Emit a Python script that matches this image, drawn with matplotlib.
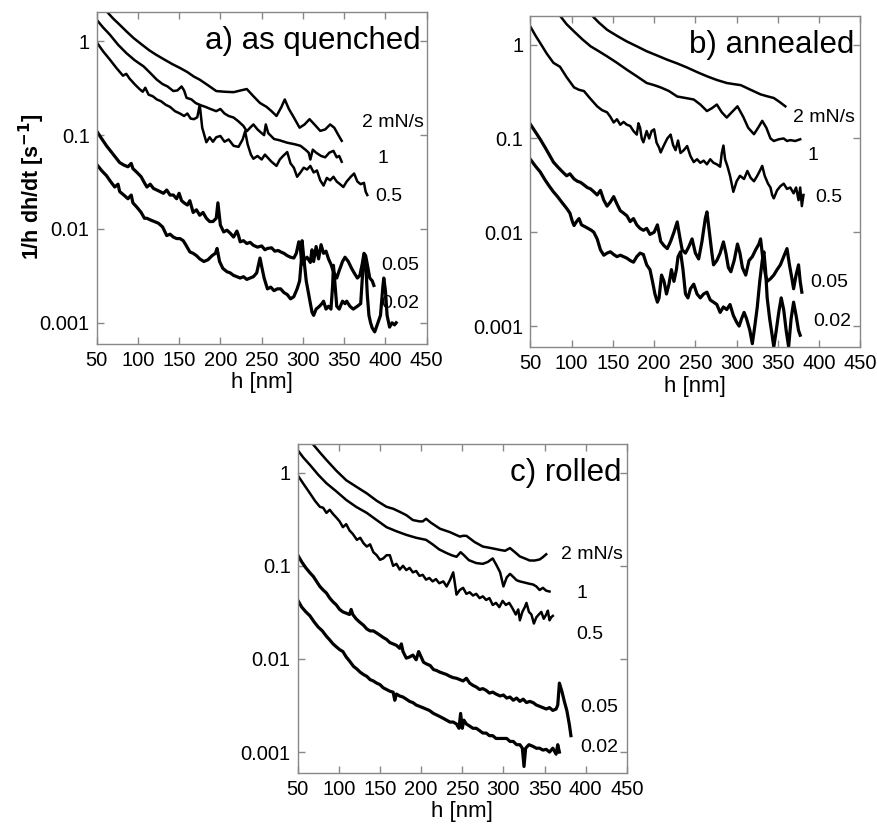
import matplotlib.pyplot as plt
from matplotlib.ticker import NullLocator

plt.rcParams['font.family'] = ['Liberation Sans', 'DejaVu Sans']

rates = ["2 mN/s", "1", "0.5", "0.05", "0.02"]
h_ticks = [50, 100, 150, 200, 250, 300, 350, 400, 450]
r_ticks = [1, 0.1, 0.01, 0.001]
r_tick_labels = ["1", "0.1", "0.01", "0.001"]

# ---- a) as quenched ----
qa_2_h = [64, 70, 78, 86, 95, 105, 114, 122, 132, 142, 151, 160, 168, 175, 185, 195, 205, 216, 225, 232,
          240, 248, 256, 262, 268, 274, 278, 283, 288, 296, 302, 308, 314, 321, 327, 333, 338, 343, 347]
qa_2_r = [2.0, 1.75, 1.5, 1.28, 1.08, 0.92, 0.8, 0.72, 0.64, 0.57, 0.52, 0.47, 0.42, 0.39, 0.34, 0.295, 0.29,
          0.287, 0.30, 0.31, 0.26, 0.22, 0.2, 0.18, 0.16, 0.2, 0.24, 0.19, 0.16, 0.12, 0.13, 0.148, 0.13, 0.111,
          0.115, 0.13, 0.12, 0.1, 0.087]

qa_1_h = [50, 58, 66, 76, 86, 96, 107, 115, 123, 130, 136, 143, 148, 153, 156, 159, 165, 170, 175, 182, 188,
          195, 200, 205, 210, 216, 222, 228, 232, 236, 240, 245, 250, 253, 255, 258, 265, 272, 281, 290, 297,
          303, 307, 309, 312, 316, 322, 327, 332, 337, 341, 344, 347]
qa_1_r = [1.70, 1.4, 1.18, 0.92, 0.75, 0.63, 0.54, 0.46, 0.39, 0.35, 0.33, 0.295, 0.3, 0.33, 0.3, 0.25, 0.24,
          0.22, 0.21, 0.2, 0.19, 0.18, 0.19, 0.17, 0.16, 0.154, 0.14, 0.125, 0.11, 0.12, 0.13, 0.115, 0.105,
          0.10, 0.13, 0.105, 0.091, 0.088, 0.083, 0.08, 0.077, 0.07, 0.065, 0.055, 0.07, 0.065, 0.06, 0.058,
          0.065, 0.068, 0.058, 0.06, 0.052]

qa_05_h = [50, 58, 66, 74, 82, 86, 90, 96, 102, 106, 109, 113, 118, 123, 128, 134, 139, 145, 151, 156, 160,
           164, 168, 172, 175, 178, 183, 187, 191, 195, 200, 205, 210, 216, 222, 227, 230, 233, 237, 240, 245,
           250, 254, 257, 262, 268, 272, 276, 281, 285, 289, 293, 297, 301, 305, 309, 313, 317, 321, 325, 329,
           333, 337, 341, 345, 349, 353, 358, 362, 366, 370, 374, 376, 378]
qa_05_r = [0.98, 0.78, 0.64, 0.52, 0.43, 0.45, 0.40, 0.35, 0.31, 0.29, 0.32, 0.27, 0.26, 0.24, 0.23, 0.21, 0.20,
           0.18, 0.17, 0.16, 0.17, 0.15, 0.148, 0.155, 0.21, 0.12, 0.084, 0.095, 0.085, 0.095, 0.098, 0.085,
           0.09, 0.077, 0.075, 0.09, 0.11, 0.08, 0.062, 0.056, 0.06, 0.055, 0.062, 0.058, 0.052, 0.047, 0.055,
           0.06, 0.066, 0.05, 0.045, 0.036, 0.04, 0.045, 0.043, 0.047, 0.04, 0.042, 0.033, 0.029, 0.035, 0.033,
           0.036, 0.032, 0.03, 0.028, 0.032, 0.036, 0.039, 0.032, 0.03, 0.031, 0.025, 0.023]

qa_005_h = [50, 55, 62, 68, 73, 78, 83, 88, 92, 94, 99, 104, 108, 111, 115, 119, 123, 127, 131, 135, 139, 143,
            147, 150, 153, 156, 160, 163, 167, 171, 175, 179, 183, 187, 191, 195, 197, 200, 204, 208, 212, 216,
            220, 222, 224, 228, 232, 236, 240, 245, 250, 254, 257, 262, 266, 270, 273, 277, 281, 285, 289, 292,
            295, 297, 299, 302, 305, 309, 311, 313, 316, 319, 322, 325, 328, 331, 334, 337, 341, 344, 348, 351,
            355, 359, 363, 366, 369, 372, 374, 376, 378, 381, 384, 386]
qa_005_r = [0.111, 0.095, 0.077, 0.066, 0.058, 0.051, 0.048, 0.046, 0.05, 0.044, 0.04, 0.036, 0.031, 0.028,
            0.03, 0.027, 0.026, 0.025, 0.024, 0.026, 0.023, 0.023, 0.021, 0.024, 0.02, 0.019, 0.018, 0.02, 0.015,
            0.016, 0.014, 0.015, 0.013, 0.012, 0.012, 0.013, 0.019, 0.011, 0.0093, 0.0097, 0.009, 0.0082, 0.0095,
            0.0085, 0.0073, 0.0075, 0.007, 0.0072, 0.0067, 0.0064, 0.0066, 0.006, 0.0062, 0.0063, 0.0058, 0.0059,
            0.0057, 0.0055, 0.0052, 0.005, 0.0049, 0.0055, 0.0073, 0.006, 0.0042, 0.0047, 0.005, 0.0044, 0.006,
            0.0045, 0.0065, 0.0048, 0.0068, 0.0055, 0.0058, 0.0048, 0.0042, 0.0035, 0.003, 0.0036, 0.0045, 0.005,
            0.0045, 0.0038, 0.0033, 0.003, 0.0032, 0.0043, 0.0055, 0.0052, 0.0042, 0.003, 0.0028, 0.0025]

qa_002_h = [50, 56, 62, 67, 72, 76, 78, 83, 88, 92, 94, 99, 104, 108, 111, 115, 120, 125, 130, 135, 139, 143,
            147, 151, 155, 158, 163, 167, 171, 175, 180, 185, 190, 194, 196, 199, 203, 208, 212, 216, 220, 224,
            228, 232, 236, 240, 244, 248, 250, 253, 257, 261, 265, 269, 273, 277, 281, 285, 289, 293, 296, 298,
            299, 301, 304, 308, 311, 313, 316, 320, 323, 325, 328, 331, 334, 336, 337, 339, 341, 344, 348, 351,
            353, 357, 361, 366, 370, 372, 374, 376, 378, 380, 382, 384, 387, 390, 394, 397, 398, 400, 402, 405,
            408, 411, 413]
qa_002_r = [0.049, 0.042, 0.037, 0.032, 0.028, 0.03, 0.025, 0.023, 0.021, 0.023, 0.019, 0.017, 0.015, 0.013,
            0.013, 0.0125, 0.012, 0.0115, 0.0105, 0.0085, 0.0088, 0.0082, 0.0079, 0.0079, 0.0075, 0.0068, 0.0057,
            0.0055, 0.0052, 0.0048, 0.0045, 0.0047, 0.0052, 0.0055, 0.0062, 0.0045, 0.0038, 0.0035, 0.0034,
            0.0032, 0.0031, 0.003, 0.0031, 0.0029, 0.003, 0.0031, 0.0034, 0.0049, 0.004, 0.003, 0.0023, 0.0024,
            0.0022, 0.0023, 0.0023, 0.0021, 0.002, 0.0018, 0.0019, 0.0023, 0.0028, 0.0045, 0.0075, 0.005, 0.0028,
            0.0018, 0.0013, 0.0012, 0.0014, 0.0015, 0.0016, 0.0017, 0.0014, 0.0015, 0.0014, 0.0025, 0.0041,
            0.0025, 0.0015, 0.0014, 0.0017, 0.0016, 0.0017, 0.0015, 0.0014, 0.0015, 0.0016, 0.003, 0.0053,
            0.0045, 0.002, 0.0012, 0.001, 0.00088, 0.0008, 0.00095, 0.0012, 0.0025, 0.003, 0.0022, 0.0012,
            0.0009, 0.001, 0.00095, 0.001]

# ---- b) annealed ----
an_2_h = [125, 133, 143, 155, 167, 179, 191, 203, 216, 228, 240, 252, 264, 276, 288, 296, 305, 317, 329, 338,
          345, 352, 359]
an_2_r = [2.03, 1.72, 1.44, 1.24, 1.08, 0.96, 0.85, 0.77, 0.69, 0.63, 0.57, 0.51, 0.46, 0.42, 0.39, 0.38, 0.37,
          0.33, 0.295, 0.28, 0.27, 0.245, 0.22]

an_1_h = [86, 94, 103, 113, 123, 133, 143, 155, 167, 179, 191, 200, 208, 218, 228, 238, 248, 256, 264, 270,
          276, 282, 288, 294, 301, 308, 314, 321, 326, 331, 336, 341, 345, 351, 357, 361, 365, 371, 377]
an_1_r = [2.03, 1.65, 1.38, 1.14, 0.96, 0.85, 0.75, 0.64, 0.54, 0.46, 0.39, 0.37, 0.35, 0.32, 0.28, 0.27, 0.26,
          0.23, 0.196, 0.21, 0.23, 0.19, 0.167, 0.19, 0.22, 0.17, 0.13, 0.111, 0.13, 0.154, 0.13, 0.1, 0.094,
          0.098, 0.1, 0.094, 0.096, 0.094, 0.098]

an_05_h = [50, 56, 62, 70, 78, 86, 94, 103, 109, 115, 122, 131, 137, 143, 147, 151, 155, 159, 163, 167, 171,
           175, 179, 181, 183, 185, 187, 191, 194, 197, 200, 203, 206, 208, 212, 216, 220, 223, 226, 229, 232,
           236, 240, 244, 248, 252, 256, 260, 264, 268, 272, 276, 280, 282, 284, 286, 289, 292, 296, 300, 304,
           309, 313, 317, 321, 325, 328, 331, 334, 338, 341, 343, 345, 349, 353, 357, 361, 365, 369, 372, 375,
           377, 379, 381]
an_05_r = [1.56, 1.26, 1.04, 0.8, 0.64, 0.58, 0.45, 0.35, 0.33, 0.32, 0.27, 0.22, 0.2, 0.19, 0.17, 0.148, 0.16,
           0.14, 0.15, 0.14, 0.136, 0.12, 0.11, 0.145, 0.13, 0.1, 0.091, 0.12, 0.1, 0.12, 0.125, 0.09, 0.08,
           0.071, 0.085, 0.1, 0.11, 0.085, 0.075, 0.095, 0.07, 0.075, 0.083, 0.065, 0.056, 0.06, 0.055, 0.058,
           0.053, 0.06, 0.055, 0.053, 0.05, 0.07, 0.084, 0.06, 0.05, 0.04, 0.027, 0.035, 0.04, 0.037, 0.045,
           0.038, 0.035, 0.04, 0.045, 0.051, 0.04, 0.033, 0.03, 0.025, 0.023, 0.028, 0.031, 0.033, 0.029, 0.03,
           0.026, 0.03, 0.022, 0.03, 0.019, 0.025]

an_005_h = [50, 56, 62, 68, 73, 78, 83, 88, 94, 98, 103, 107, 111, 115, 119, 123, 127, 131, 135, 139, 143, 147,
            151, 155, 159, 163, 167, 171, 175, 179, 183, 187, 191, 195, 200, 204, 208, 212, 216, 220, 224, 228,
            231, 234, 238, 242, 246, 250, 254, 258, 262, 264, 267, 270, 272, 276, 280, 284, 287, 290, 293, 297,
            301, 304, 307, 311, 315, 319, 323, 327, 329, 332, 335, 337, 341, 345, 349, 353, 357, 361, 364, 367,
            369, 372, 375, 377, 379]
an_005_r = [0.142, 0.118, 0.098, 0.08, 0.067, 0.056, 0.05, 0.045, 0.04, 0.042, 0.037, 0.035, 0.034, 0.032,
            0.03, 0.029, 0.027, 0.025, 0.028, 0.022, 0.019, 0.021, 0.024, 0.02, 0.017, 0.016, 0.015, 0.013, 0.014,
            0.012, 0.011, 0.0105, 0.011, 0.0095, 0.01, 0.012, 0.008, 0.0072, 0.0067, 0.008, 0.01, 0.0129, 0.009,
            0.0065, 0.006, 0.007, 0.0085, 0.006, 0.0052, 0.008, 0.014, 0.0165, 0.01, 0.006, 0.0045, 0.005, 0.006,
            0.0079, 0.006, 0.0042, 0.0038, 0.005, 0.0075, 0.006, 0.0042, 0.0035, 0.005, 0.0055, 0.0065, 0.0075,
            0.0085, 0.005, 0.0035, 0.003, 0.0032, 0.0035, 0.004, 0.0045, 0.0055, 0.0067, 0.0045, 0.0032, 0.0025,
            0.0035, 0.0045, 0.003, 0.0023]

an_002_h = [50, 56, 62, 68, 73, 78, 83, 88, 94, 98, 101, 103, 106, 109, 112, 116, 120, 124, 127, 131, 135, 139,
            143, 147, 151, 155, 159, 163, 167, 171, 175, 179, 183, 187, 191, 195, 198, 201, 204, 206, 209, 212,
            215, 218, 221, 224, 227, 229, 232, 235, 238, 241, 244, 248, 252, 256, 260, 264, 268, 272, 276, 280,
            284, 288, 292, 296, 300, 303, 306, 309, 312, 316, 319, 322, 325, 328, 331, 333, 335, 337, 340, 343,
            345, 348, 351, 354, 357, 360, 363, 366, 369, 372, 375, 377]
an_002_r = [0.06, 0.051, 0.044, 0.036, 0.031, 0.027, 0.024, 0.021, 0.018, 0.016, 0.013, 0.0118, 0.013, 0.014,
            0.012, 0.0115, 0.011, 0.0105, 0.01, 0.0085, 0.0065, 0.0057, 0.006, 0.0062, 0.0058, 0.0055, 0.0057,
            0.0055, 0.0053, 0.005, 0.0048, 0.0055, 0.006, 0.0058, 0.0045, 0.004, 0.003, 0.0022, 0.0018, 0.002,
            0.0035, 0.003, 0.0022, 0.0028, 0.004, 0.003, 0.004, 0.0055, 0.0062, 0.004, 0.0022, 0.002, 0.0025,
            0.0028, 0.0022, 0.002, 0.0022, 0.0023, 0.0019, 0.0018, 0.0017, 0.0014, 0.0016, 0.0015, 0.0017, 0.0013,
            0.0011, 0.001, 0.0012, 0.0014, 0.0012, 0.0009, 0.00065, 0.001, 0.0016, 0.003, 0.005, 0.0062, 0.004,
            0.002, 0.0012, 0.0008, 0.0006, 0.0009, 0.0014, 0.002, 0.0015, 0.0009, 0.0006, 0.0012, 0.0018, 0.0013,
            0.0009, 0.0008]

# ---- c) rolled ----
ro_2_h = [69, 77, 85, 97, 109, 122, 134, 146, 158, 166, 174, 182, 190, 198, 202, 206, 212, 223, 235, 247, 251,
          255, 265, 275, 285, 296, 302, 308, 314, 320, 326, 332, 338, 344, 348, 352]
ro_2_r = [2.0, 1.65, 1.37, 1.05, 0.83, 0.7, 0.6, 0.5, 0.43, 0.41, 0.38, 0.35, 0.31, 0.3, 0.3, 0.32, 0.29, 0.25,
          0.23, 0.206, 0.21, 0.21, 0.18, 0.161, 0.155, 0.148, 0.145, 0.155, 0.14, 0.126, 0.12, 0.114, 0.114,
          0.117, 0.124, 0.133]

ro_1_h = [50, 57, 65, 75, 85, 97, 109, 121, 134, 146, 158, 170, 182, 194, 206, 214, 222, 231, 237, 243, 248,
          252, 258, 267, 275, 281, 287, 292, 296, 300, 304, 308, 312, 316, 320, 326, 332, 336, 340, 344, 348,
          352, 356]
ro_1_r = [1.75, 1.45, 1.21, 0.95, 0.77, 0.63, 0.51, 0.43, 0.37, 0.31, 0.26, 0.235, 0.215, 0.2, 0.19, 0.17,
          0.15, 0.137, 0.13, 0.125, 0.14, 0.13, 0.115, 0.107, 0.105, 0.11, 0.12, 0.1, 0.085, 0.06, 0.075, 0.082,
          0.076, 0.07, 0.068, 0.066, 0.064, 0.063, 0.06, 0.055, 0.058, 0.054, 0.053]

ro_05_h = [50, 57, 65, 71, 77, 81, 85, 89, 93, 97, 101, 105, 109, 113, 117, 122, 126, 130, 134, 138, 142, 146,
           150, 154, 158, 162, 166, 170, 174, 178, 182, 186, 190, 194, 198, 202, 206, 210, 214, 218, 222, 227,
           231, 235, 239, 241, 243, 247, 251, 255, 259, 263, 267, 271, 275, 279, 283, 287, 291, 295, 299, 303,
           307, 311, 315, 318, 320, 323, 326, 328, 331, 334, 337, 340, 343, 346, 349, 352, 354, 356, 358, 360]
ro_05_r = [0.94, 0.76, 0.6, 0.5, 0.43, 0.42, 0.37, 0.4, 0.36, 0.33, 0.3, 0.26, 0.28, 0.24, 0.22, 0.19, 0.2,
           0.175, 0.161, 0.17, 0.14, 0.13, 0.116, 0.12, 0.13, 0.13, 0.1, 0.105, 0.091, 0.1, 0.09, 0.095, 0.085,
           0.088, 0.078, 0.08, 0.071, 0.074, 0.068, 0.072, 0.065, 0.068, 0.06, 0.07, 0.085, 0.065, 0.049, 0.055,
           0.058, 0.05, 0.052, 0.048, 0.05, 0.045, 0.047, 0.043, 0.045, 0.038, 0.04, 0.036, 0.042, 0.038, 0.04,
           0.035, 0.03, 0.034, 0.026, 0.032, 0.036, 0.04, 0.032, 0.03, 0.024, 0.028, 0.03, 0.032, 0.027, 0.03,
           0.033, 0.026, 0.028, 0.029]

ro_005_h = [50, 55, 60, 65, 69, 73, 77, 81, 85, 89, 93, 97, 101, 105, 109, 113, 115, 117, 121, 125, 130, 134,
            138, 142, 146, 150, 154, 158, 162, 166, 170, 174, 176, 178, 182, 186, 190, 194, 197, 199, 203, 207,
            211, 215, 219, 223, 227, 231, 235, 239, 243, 247, 251, 255, 259, 263, 267, 271, 275, 279, 283, 287,
            291, 296, 300, 304, 308, 312, 316, 320, 324, 328, 332, 336, 340, 344, 348, 352, 356, 360, 364, 366,
            368, 371, 374, 377, 380, 382]
ro_005_r = [0.131, 0.11, 0.095, 0.084, 0.077, 0.068, 0.06, 0.055, 0.051, 0.045, 0.041, 0.038, 0.034, 0.032,
            0.031, 0.03, 0.034, 0.03, 0.027, 0.025, 0.023, 0.021, 0.02, 0.02, 0.019, 0.018, 0.017, 0.0162, 0.015,
            0.0145, 0.014, 0.013, 0.0145, 0.012, 0.0102, 0.0105, 0.011, 0.0098, 0.012, 0.011, 0.0092, 0.0088,
            0.0085, 0.0077, 0.0075, 0.0072, 0.007, 0.0068, 0.0065, 0.0063, 0.0062, 0.006, 0.0058, 0.0062, 0.0055,
            0.0052, 0.005, 0.0047, 0.0048, 0.0046, 0.0043, 0.0044, 0.0042, 0.004, 0.0041, 0.0038, 0.0039, 0.0036,
            0.0038, 0.0035, 0.0037, 0.0034, 0.0035, 0.0034, 0.0032, 0.0031, 0.003, 0.0029, 0.003, 0.0028, 0.0029,
            0.0032, 0.0055, 0.0045, 0.0035, 0.0028, 0.002, 0.0015]

ro_002_h = [50, 55, 60, 65, 70, 75, 80, 85, 89, 93, 97, 101, 105, 109, 113, 118, 122, 126, 130, 134, 138, 142,
            146, 150, 154, 158, 162, 166, 168, 170, 174, 178, 182, 186, 190, 194, 198, 202, 206, 210, 215, 219,
            223, 227, 231, 235, 239, 243, 246, 248, 250, 252, 255, 259, 263, 267, 271, 275, 279, 283, 287, 291,
            296, 300, 304, 308, 312, 316, 320, 323, 325, 327, 331, 336, 340, 344, 348, 352, 356, 360, 364, 366, 368]
ro_002_r = [0.043, 0.036, 0.032, 0.029, 0.025, 0.022, 0.02, 0.0175, 0.016, 0.0145, 0.0135, 0.0126, 0.012,
            0.0105, 0.0095, 0.0083, 0.0078, 0.0072, 0.0068, 0.0065, 0.006, 0.0058, 0.0055, 0.0053, 0.0049, 0.0047,
            0.0045, 0.0044, 0.0036, 0.0042, 0.004, 0.0039, 0.0037, 0.0035, 0.0034, 0.0032, 0.0031, 0.003, 0.0029,
            0.0028, 0.0026, 0.0025, 0.0024, 0.0023, 0.0022, 0.0021, 0.0021, 0.002, 0.0018, 0.0026, 0.0018, 0.0022,
            0.002, 0.0019, 0.0018, 0.0018, 0.0017, 0.0016, 0.0016, 0.0015, 0.0015, 0.0014, 0.0014, 0.0014, 0.0014,
            0.0013, 0.0013, 0.0012, 0.0012, 0.0011, 0.0007, 0.0011, 0.0012, 0.00115, 0.0011, 0.0011, 0.00105,
            0.00107, 0.001, 0.0011, 0.00095, 0.0012, 0.001]

panels = [
    ("a) as quenched",
     [(qa_2_h, qa_2_r), (qa_1_h, qa_1_r), (qa_05_h, qa_05_r), (qa_005_h, qa_005_r), (qa_002_h, qa_002_r)],
     [(409, 0.138), (397, 0.056), (404, 0.022), (418, 0.0041), (418, 0.0016)]),
    ("b) annealed",
     [(an_2_h, an_2_r), (an_1_h, an_1_r), (an_05_h, an_05_r), (an_005_h, an_005_r), (an_002_h, an_002_r)],
     [(406, 0.167), (393, 0.066), (412, 0.0237), (412, 0.0029), (416, 0.00112)]),
    ("c) rolled",
     [(ro_2_h, ro_2_r), (ro_1_h, ro_1_r), (ro_05_h, ro_05_r), (ro_005_h, ro_005_r), (ro_002_h, ro_002_r)],
     [(407, 0.131), (395, 0.051), (405, 0.0182), (417, 0.003), (417, 0.00112)]),
]

rects = [[0.110, 0.586, 0.376, 0.399],
         [0.604, 0.582, 0.376, 0.399],
         [0.339, 0.069, 0.375, 0.396]]

fig = plt.figure(figsize=(8.78, 8.3), dpi=100)

for (title, curves, label_pos), rect in zip(panels, rects):
    ax = fig.add_axes(rect)
    for i, (hs, rs) in enumerate(curves):
        lw = 1.8 if i < 3 else 2.3
        ax.plot(hs, rs, color="black", lw=lw, solid_joinstyle="round")
    for name, (lx, ly) in zip(rates, label_pos):
        ax.text(lx, ly, name, fontsize=14, ha="center", va="center")
    ax.text(443, 1.0, title, fontsize=22.5, ha="right", va="center")
    ax.set_yscale("log")
    ax.set_xlim(50, 450)
    ax.set_ylim(0.0006, 2.03)
    ax.set_xticks(h_ticks)
    ax.set_yticks(r_ticks)
    ax.set_yticklabels(r_tick_labels)
    ax.yaxis.set_minor_locator(NullLocator())
    ax.tick_params(direction="in", length=5, width=1, color="#888888", labelsize=14.5,
                   top=True, right=True, pad=5)
    for sp in ax.spines.values():
        sp.set_color("#888888")
        sp.set_linewidth(1)
    ax.set_xlabel("h [nm]", fontsize=16, labelpad=2)

fig.text(0.036, 0.775, r"1/h dh/dt [s$^{\mathbf{-1}}$]", fontsize=15.5, fontweight="bold",
         rotation=90, ha="center", va="center")

plt.savefig("out.png", dpi=100)
